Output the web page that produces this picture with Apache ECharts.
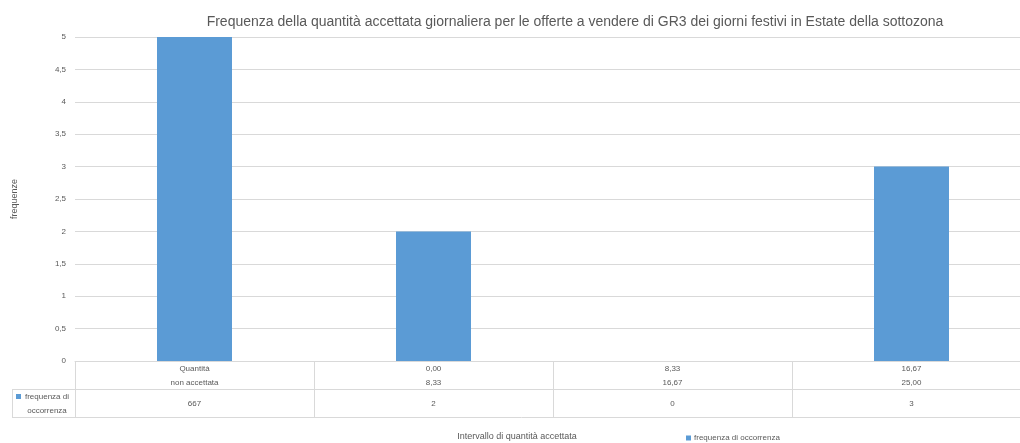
<!DOCTYPE html>
<html><head><meta charset="utf-8">
<script src="https://cdn.jsdelivr.net/npm/echarts@6/dist/echarts.min.js"></script>
<style>html,body{margin:0;padding:0;background:#fff;overflow:hidden;width:1020px;height:443px}#c{width:1031px;height:443px}</style>
</head><body><div id="c"></div>
<script>
const titleText = 'Frequenza della quantità accettata giornaliera per le offerte a vendere di GR3 dei giorni festivi in Estate della sottozona';
const categories = ['Quantità\nnon accettata', '0,00\n8,33', '8,33\n16,67', '16,67\n25,00'];
const seriesName = 'frequenza di occorrenza';
const values = [667, 2, 0, 3];
const valueLabels = ['667', '2', '0', '3'];
const xAxisName = 'Intervallo di quantità accettata';
const yAxisName = 'frequenze';

const font = 'Liberation Sans';
const txt = '#595959';
const line = '#d9d9d9';
const chart = echarts.init(document.getElementById('c'));
chart.setOption({
  animation: false,
  textStyle: { fontFamily: font },
  title: { text: titleText, left: 570, top: 10, textAlign: 'center',
    textStyle: { fontFamily: font, fontSize: 14, fontWeight: 'normal', color: txt } },
  grid: { left: 75, top: 37, right: 0, height: 324, containLabel: false },
  legend: { data: [seriesName], left: 681, top: 429, icon: 'rect', itemWidth: 5, itemHeight: 5, itemGap: 3,
    textStyle: { fontFamily: font, fontSize: 8, color: txt, padding: [0,0,0,-2] } },
  xAxis: [
    { type: 'category', data: categories, position: 'bottom',
      axisLine: { lineStyle: { color: line } },
      axisTick: { show: true, length: 56, lineStyle: { color: line } },
      axisLabel: { margin: 1, fontSize: 8, lineHeight: 14, color: txt, fontFamily: font } },
    { type: 'category', data: valueLabels, position: 'bottom', offset: 28,
      axisLine: { show: true, lineStyle: { color: line } },
      axisTick: { show: true, length: 28, lineStyle: { color: line } },
      axisLabel: { margin: 8, fontSize: 8, lineHeight: 14, color: txt, fontFamily: font } }
  ],
  yAxis: { type: 'value', min: 0, max: 5, interval: 0.5,
    name: yAxisName, nameLocation: 'middle', nameGap: 56, nameRotate: 90,
    nameTextStyle: { fontSize: 9, color: txt, fontFamily: font },
    axisLine: { show: false }, axisTick: { show: false },
    splitLine: { lineStyle: { color: line } },
    axisLabel: { fontSize: 8, color: txt, margin: 9, fontFamily: font,
      formatter: v => String(v).replace('.', ',') } },
  series: [{ name: seriesName, type: 'bar', data: values, barWidth: 75,
    itemStyle: { color: '#5b9bd5' }, clip: true }],
  graphic: [
    { type: 'line', shape: { x1: 12, y1: 389.5, x2: 75, y2: 389.5 }, style: { stroke: line, lineWidth: 1 } },
    { type: 'line', shape: { x1: 12, y1: 417.5, x2: 1031, y2: 417.5 }, style: { stroke: line, lineWidth: 1 } },
    { type: 'line', shape: { x1: 12.5, y1: 389, x2: 12.5, y2: 418 }, style: { stroke: line, lineWidth: 1 } },
    { type: 'rect', shape: { x: 16, y: 394, width: 5, height: 5 }, style: { fill: '#5b9bd5' } },
    { type: 'text', x: 47, y: 397, style: { text: 'frequenza di', font: '8px ' + font, fill: txt, textAlign: 'center', textVerticalAlign: 'middle' } },
    { type: 'text', x: 47, y: 411, style: { text: 'occorrenza', font: '8px ' + font, fill: txt, textAlign: 'center', textVerticalAlign: 'middle' } },
    { type: 'text', x: 517, y: 437, style: { text: xAxisName, font: '9px ' + font, fill: txt, textAlign: 'center', textVerticalAlign: 'middle' } }
  ]
});
</script></body></html>
